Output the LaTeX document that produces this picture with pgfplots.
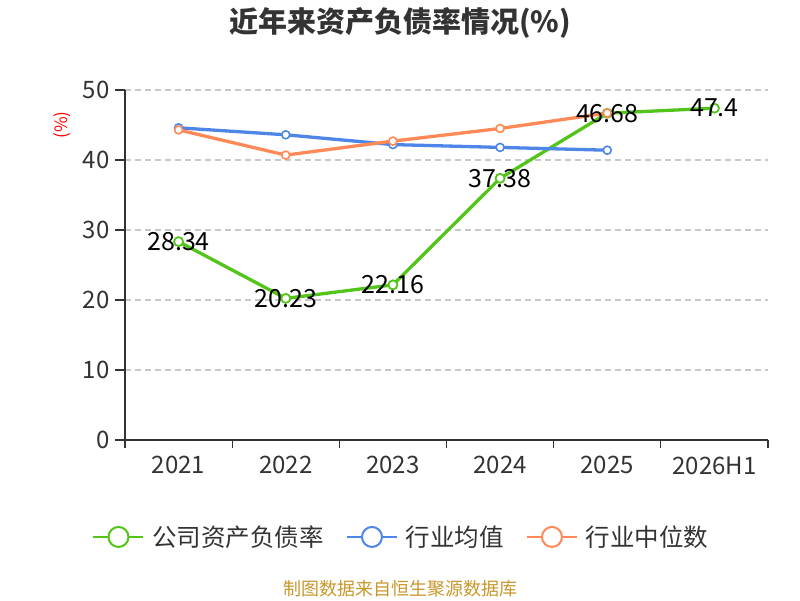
\documentclass[border=0pt]{standalone}
\usepackage{pgfplots}
\pgfplotsset{compat=1.18}
\usepackage{fontspec}
\setmainfont{Noto Sans CJK SC}
\definecolor{cgreen}{HTML}{52C41A}
\definecolor{cblue}{HTML}{4E86E8}
\definecolor{corange}{HTML}{FF8A57}
\definecolor{cgold}{HTML}{C8962A}
\definecolor{ctext}{HTML}{333333}
\definecolor{cgrid}{HTML}{C8C8C8}
\begin{document}
\begin{tikzpicture}[x=1pt,y=1pt]
\path[use as bounding box] (0,0) rectangle (800,600);
\node[font=\fontsize{29pt}{34pt}\selectfont\bfseries, text=ctext] at (400,577) {近年来资产负债率情况(\%)};
\begin{axis}[
  at={(125pt,160pt)}, anchor=south west,
  scale only axis, width=643pt, height=350pt,
  xmin=-0.5, xmax=5.5, ymin=0, ymax=50,
  axis x line*=bottom, axis y line*=left,
  axis line style={draw=ctext, line width=1.5pt, -},
  ytick={0,10,20,30,40,50},
  xtick={0,1,2,3,4,5},
  xticklabels={2021,2022,2023,2024,2025,2026H1},
  minor xtick={-0.5,0.5,1.5,2.5,3.5,4.5,5.5},
  tick align=outside,
  major tick length=10pt, minor tick length=8pt,
  major x tick style={draw=none},
  minor x tick style={draw=ctext, line width=1.3pt},
  major y tick style={draw=ctext, line width=1.3pt},
  ymajorgrids,
  grid style={draw=cgrid, dashed, dash pattern=on 6pt off 4pt, line width=1.2pt},
  /pgf/number format/assume math mode=true,
  ticklabel style={font=\fontsize{24pt}{28pt}\selectfont, text=ctext},
  xticklabel style={yshift=-3pt},
  yticklabel style={xshift=-2pt},
  legend columns=3,
  legend style={at={(0.43,-0.277)}, anchor=center, draw=none, fill=none,
    font=\fontsize{24.5pt}{28pt}\selectfont, text=ctext,
    /tikz/every even column/.append style={column sep=20pt},
    /tikz/every odd column/.append style={column sep=6pt}},
  legend image code/.code={
    \draw[#1, line width=2pt] (0pt,0pt) -- (50pt,0pt);
    \draw[#1, line width=2pt, fill=white, solid] (25pt,0pt) circle (10pt);
  },
]
\addplot[cgreen, line width=3.3pt, mark=*, mark size=4.5pt,
  mark options={fill=white, line width=1.8pt},
  nodes near coords, point meta=explicit symbolic,
  every node near coord/.append style={anchor=center, text=black,
    font=\fontsize{25pt}{29pt}\selectfont}]
  table[meta=lab] {
  x y lab
  0 28.34 28.34
  1 20.23 20.23
  2 22.16 22.16
  3 37.38 37.38
  4 46.68 46.68
  5 47.4 47.4
  };
\addlegendentry{公司资产负债率}
\addplot[cblue, line width=3.3pt, mark=*, mark size=4pt,
  mark options={fill=white, line width=1.6pt}]
  coordinates {(0,44.6) (1,43.6) (2,42.2) (3,41.8) (4,41.4)};
\addlegendentry{行业均值}
\addplot[corange, line width=3.3pt, mark=*, mark size=4pt,
  mark options={fill=white, line width=1.6pt}]
  coordinates {(0,44.3) (1,40.7) (2,42.7) (3,44.5) (4,46.7)};
\addlegendentry{行业中位数}
\end{axis}
\node[rotate=90, text=red, font=\fontsize{17pt}{19pt}\selectfont] at (62,475) {(\%)};
\node[text=cgold, font=\fontsize{18pt}{21pt}\selectfont] at (400,11) {制图数据来自恒生聚源数据库};
\end{tikzpicture}
\end{document}
